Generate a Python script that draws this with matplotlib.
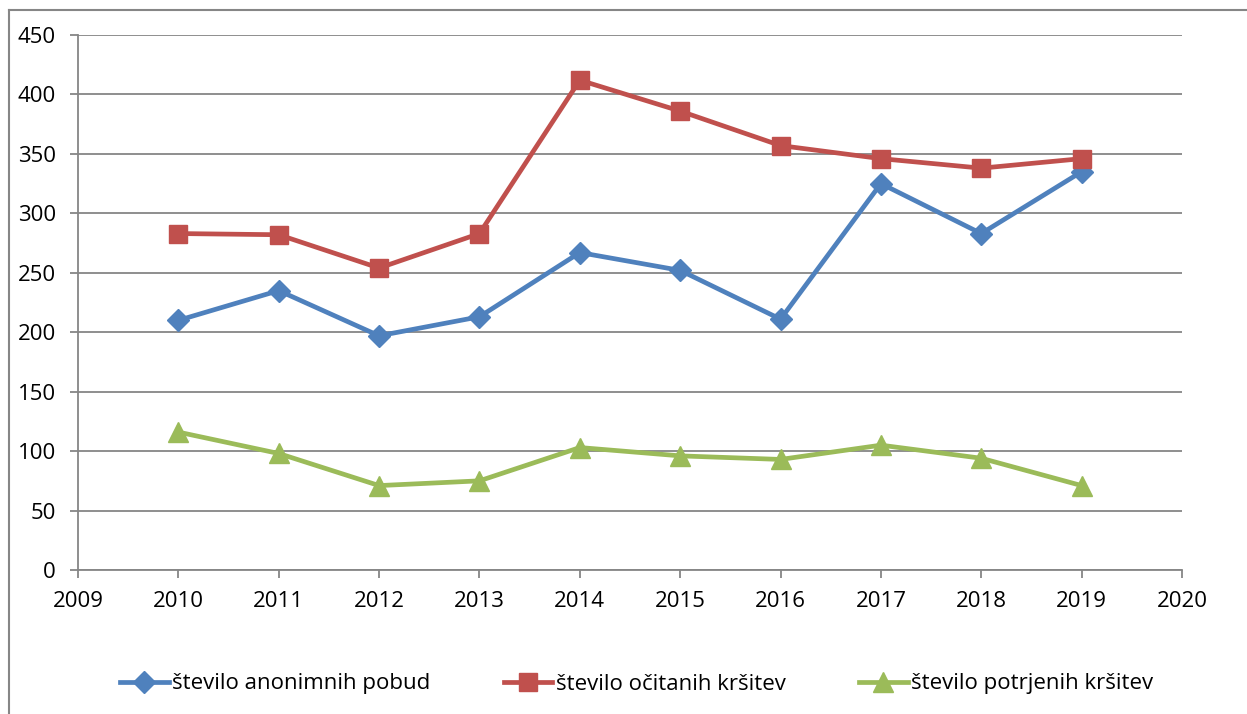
import matplotlib.pyplot as plt
from matplotlib.lines import Line2D

# data
years = [2010, 2011, 2012, 2013, 2014, 2015, 2016, 2017, 2018, 2019]
anonimne = [210, 235, 197, 213, 267, 252, 211, 325, 283, 335]
ocitane = [283, 282, 254, 283, 412, 386, 357, 346, 338, 346]
potrjene = [116, 98, 71, 75, 103, 96, 93, 105, 94, 71]
labels = ["število anonimnih pobud", "število očitanih kršitev", "število potrjenih kršitev"]

plt.rcParams['font.family'] = ['Open Sans', 'DejaVu Sans']

fig = plt.figure(figsize=(12.47, 7.14), dpi=100)
ax = fig.add_axes([78 / 1247, 1 - 570 / 714, (1182 - 78) / 1247, (570 - 35) / 714])

grey = '#868686'
ax.plot(years, anonimne, color='#4F81BD', lw=3.4, marker='D', ms=11, label=labels[0])
ax.plot(years, ocitane, color='#C0504D', lw=3.4, marker='s', ms=13, label=labels[1])
ax.plot(years, potrjene, color='#9BBB59', lw=3.4, marker='^', ms=14, label=labels[2])

ax.set_xlim(2009, 2020)
ax.set_ylim(0, 450)
ax.set_xticks(range(2009, 2021))
ax.set_yticks(range(0, 451, 50))
ax.yaxis.grid(True, color=grey, lw=1.3)
ax.set_axisbelow(True)
for s in ['top', 'right']:
    ax.spines[s].set_visible(False)
for s in ['left', 'bottom']:
    ax.spines[s].set_color(grey)
    ax.spines[s].set_linewidth(1.3)
ax.tick_params(axis='both', colors=grey, width=1.3, length=6, labelsize=16, labelcolor='black')
ax.tick_params(axis='x', pad=9)
ax.tick_params(axis='y', pad=10)

# legend along the bottom
handles = [Line2D([], [], color=c, lw=3.4, marker=m, ms=s)
           for c, m, s in [('#4F81BD', 'D', 11), ('#C0504D', 's', 13), ('#9BBB59', '^', 14)]]
fig.legend(handles, labels, loc='center', bbox_to_anchor=(0.5105, 1 - 684 / 714), ncol=3,
           frameon=False, fontsize=16, handlelength=2.2, handletextpad=0.15, columnspacing=3.3)

# chart frame (left and top edges visible)
fig.add_artist(Line2D([9 / 1247, 9 / 1247], [0, 1 - 10 / 714], color=grey, lw=1.5))
fig.add_artist(Line2D([9 / 1247, 1], [1 - 10 / 714, 1 - 10 / 714], color=grey, lw=1.5))

fig.savefig('out.png', dpi=100)
